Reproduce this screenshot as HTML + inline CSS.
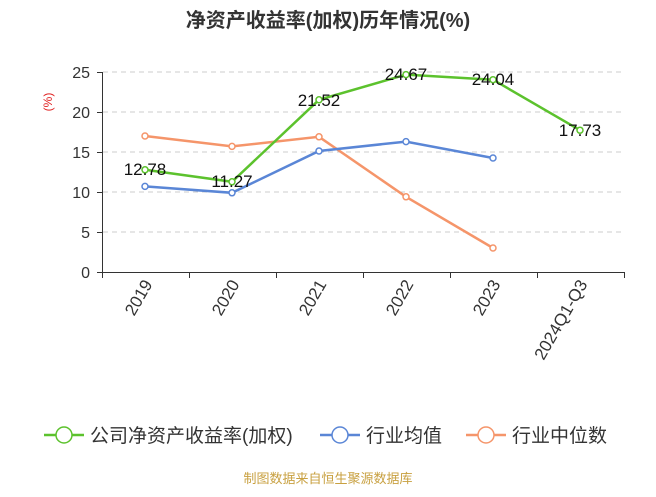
<!DOCTYPE html>
<html><head><meta charset="utf-8"><style>
body{margin:0;background:#fff;}
svg text{font-family:"Liberation Sans","Noto Sans CJK SC",sans-serif;}
</style></head><body>
<svg width="656" height="492" viewBox="0 0 656 492" xmlns="http://www.w3.org/2000/svg">
<rect width="656" height="492" fill="#fff"/>
<text x="328" y="27" text-anchor="middle" font-size="20" font-weight="bold" fill="#333">净资产收益率(加权)历年情况(%)</text>
<text x="52" y="102" font-size="12" fill="#e02020" transform="rotate(-90 52 102)" text-anchor="middle">(%)</text>
<g stroke="#ccc" stroke-dasharray="5,4" stroke-width="1">
<line x1="103" y1="72" x2="625" y2="72"/><line x1="103" y1="112" x2="625" y2="112"/>
<line x1="103" y1="152" x2="625" y2="152"/><line x1="103" y1="192" x2="625" y2="192"/>
<line x1="103" y1="232" x2="625" y2="232"/>
</g>
<g stroke="#333" stroke-width="1">
<line x1="102.5" y1="72" x2="102.5" y2="272"/><line x1="97" y1="272.5" x2="625" y2="272.5"/>
<line x1="97" y1="72.5" x2="103" y2="72.5"/><line x1="97" y1="112.5" x2="103" y2="112.5"/>
<line x1="97" y1="152.5" x2="103" y2="152.5"/><line x1="97" y1="192.5" x2="103" y2="192.5"/>
<line x1="97" y1="232.5" x2="103" y2="232.5"/>
<line x1="102.5" y1="272" x2="102.5" y2="278"/><line x1="189.5" y1="272" x2="189.5" y2="278"/>
<line x1="276.5" y1="272" x2="276.5" y2="278"/><line x1="363.5" y1="272" x2="363.5" y2="278"/>
<line x1="450.5" y1="272" x2="450.5" y2="278"/><line x1="537.5" y1="272" x2="537.5" y2="278"/>
<line x1="624.5" y1="272" x2="624.5" y2="278"/>
</g>
<g font-size="16" fill="#333" text-anchor="end">
<text x="90" y="78">25</text><text x="90" y="118">20</text><text x="90" y="158">15</text>
<text x="90" y="198">10</text><text x="90" y="238">5</text><text x="90" y="278">0</text>
</g>
<g font-size="17" fill="#333" text-anchor="end">
<text transform="translate(153,284) rotate(-60)">2019</text>
<text transform="translate(240,284) rotate(-60)">2020</text>
<text transform="translate(327,284) rotate(-60)">2021</text>
<text transform="translate(414,284) rotate(-60)">2022</text>
<text transform="translate(501,284) rotate(-60)">2023</text>
<text transform="translate(588,284) rotate(-60)">2024Q1-Q3</text>
</g>
<g fill="none" stroke-width="2.5">
<polyline stroke="#f5956a" points="145,136 232,146.4 319,136.8 406,196.8 493,248"/>
<polyline stroke="#5a86d6" points="145,186.4 232,192.8 319,151 406,141.6 493,158"/>
<polyline stroke="#5cc22d" points="145,169.8 232,181.8 319,99.8 406,74.6 493,79.7 580,130.2"/>
</g>
<g fill="#fff" stroke-width="1.5">
<g stroke="#f5956a"><circle cx="145" cy="136" r="3"/><circle cx="232" cy="146.4" r="3"/><circle cx="319" cy="136.8" r="3"/><circle cx="406" cy="196.8" r="3"/><circle cx="493" cy="248" r="3"/></g>
<g stroke="#5a86d6"><circle cx="145" cy="186.4" r="3"/><circle cx="232" cy="192.8" r="3"/><circle cx="319" cy="151" r="3"/><circle cx="406" cy="141.6" r="3"/><circle cx="493" cy="158" r="3"/></g>
<g stroke="#5cc22d"><circle cx="145" cy="169.8" r="3"/><circle cx="232" cy="181.8" r="3"/><circle cx="319" cy="99.8" r="3"/><circle cx="406" cy="74.6" r="3"/><circle cx="493" cy="79.7" r="3"/><circle cx="580" cy="130.2" r="3"/></g>
</g>
<g font-size="17" fill="#111" text-anchor="middle">
<text x="145" y="175">12.78</text><text x="232" y="187">11.27</text><text x="319" y="106">21.52</text>
<text x="406" y="80">24.67</text><text x="493" y="85">24.04</text><text x="580" y="136">17.73</text>
</g>
<g font-size="19" fill="#333">
<line x1="44" y1="435" x2="84" y2="435" stroke="#5cc22d" stroke-width="2.5"/><circle cx="64" cy="435" r="8" fill="#fff" stroke="#5cc22d" stroke-width="1.5"/>
<text x="90" y="442">公司净资产收益率(加权)</text>
<line x1="320" y1="435" x2="360" y2="435" stroke="#5a86d6" stroke-width="2.5"/><circle cx="340" cy="435" r="8" fill="#fff" stroke="#5a86d6" stroke-width="1.5"/>
<text x="366" y="442">行业均值</text>
<line x1="466" y1="435" x2="506" y2="435" stroke="#f5956a" stroke-width="2.5"/><circle cx="486" cy="435" r="8" fill="#fff" stroke="#f5956a" stroke-width="1.5"/>
<text x="512" y="442">行业中位数</text>
</g>
<text x="328" y="483" text-anchor="middle" font-size="13" fill="#c8a040">制图数据来自恒生聚源数据库</text>
</svg>
</body></html>
